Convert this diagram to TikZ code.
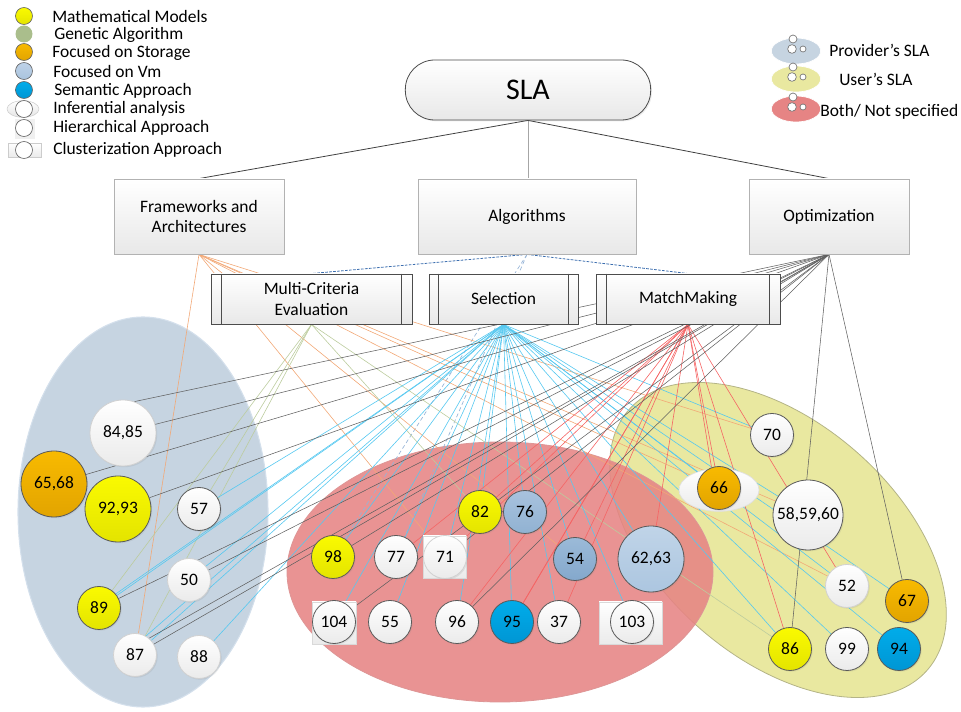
\documentclass[tikz,border=0pt]{standalone}
\usepackage{fontspec}
\setmainfont{Carlito}
\usetikzlibrary{shadows,shapes.geometric}
\pgfdeclarelayer{bg}
\pgfsetlayers{bg,main}
\newcommand\myfs{\fontsize{13.1}{15.5}\selectfont}
\definecolor{ellB}{RGB}{198,212,225}
\definecolor{ellBd}{RGB}{212,224,236}
\definecolor{ellR}{RGB}{230,132,132}
\definecolor{ellRd}{RGB}{222,150,150}
\definecolor{ellY}{RGB}{233,232,160}
\definecolor{ellYd}{RGB}{180,180,135}
\definecolor{yelT}{RGB}{250,250,0}
\definecolor{yelB}{RGB}{228,228,0}
\definecolor{orgT}{RGB}{248,186,0}
\definecolor{orgB}{RGB}{226,164,0}
\definecolor{bluT}{RGB}{0,172,234}
\definecolor{bluB}{RGB}{0,150,212}
\definecolor{vmT}{RGB}{190,210,232}
\definecolor{vmB}{RGB}{170,196,222}
\definecolor{sAT}{RGB}{168,194,222}
\definecolor{sAB}{RGB}{145,178,210}
\definecolor{sBT}{RGB}{155,186,216}
\definecolor{sBB}{RGB}{132,168,204}
\definecolor{sCT}{RGB}{192,212,232}
\definecolor{sCB}{RGB}{172,198,224}
\definecolor{genC}{RGB}{170,190,140}
\definecolor{lOrg}{RGB}{242,168,118}
\definecolor{lGrn}{RGB}{188,204,158}
\definecolor{lBlu}{RGB}{85,200,240}
\definecolor{lRed}{RGB}{245,100,100}
\definecolor{lGry}{RGB}{95,95,95}
\definecolor{dBlu}{RGB}{60,110,175}
\definecolor{pBlu}{RGB}{150,180,215}
\tikzset{
  cc/.style={circle, inner sep=0pt, minimum size=32.25pt, draw=black!65, line width=0.6pt,
    top color=white, bottom color=black!8, font=\myfs,
    drop shadow={shadow xshift=0.9pt, shadow yshift=-0.9pt, opacity=0.15}},
  pale/.style={draw=black!18},
  big/.style={minimum size=49.5pt},
  xl/.style={minimum size=52.5pt},
  yc/.style={top color=yelT, bottom color=yelB},
  oc/.style={top color=orgT, bottom color=orgB},
  bc/.style={top color=bluT, bottom color=bluB},
  fA/.style={top color=sAT, bottom color=sAB},
  fB/.style={top color=sBT, bottom color=sBB},
  fC/.style={top color=sCT, bottom color=sCB},
  sq/.style={rectangle, inner sep=0pt, draw=black!15, line width=0.5pt, top color=white, bottom color=black!8,
    drop shadow={shadow xshift=0.8pt, shadow yshift=-0.8pt, opacity=0.12}},
  box/.style={rectangle, draw=black!30, line width=0.6pt, top color=white, bottom color=black!9,
    font=\myfs, align=center, minimum height=56.25pt, inner sep=2pt,
    drop shadow={shadow xshift=1pt, shadow yshift=-1pt, opacity=0.15}},
  proc/.style={rectangle, draw=black!70, line width=0.7pt, top color=white, bottom color=black!9,
    font=\myfs, align=center, minimum height=37.5pt, inner sep=2pt,
    drop shadow={shadow xshift=1pt, shadow yshift=-1pt, opacity=0.15}},
  pl/.style={draw=black!70, line width=0.7pt},
  lg/.style={circle, inner sep=0pt, minimum size=12.75pt, draw=black!60, line width=0.5pt},
  lt/.style={anchor=west, inner sep=0pt, font=\myfs},
  re/.style={ellipse, inner sep=0pt, minimum width=37pt, minimum height=19.5pt, draw=white, line width=0.5pt},
  sm/.style={circle, inner sep=0pt, draw=black!55, fill=white, line width=0.5pt},
  sl/.style={draw=black!75, line width=0.6pt},
  fo/.style={draw=lOrg, line width=0.45pt},
  fg/.style={draw=lGrn, line width=0.45pt},
  fb/.style={draw=lBlu, line width=0.45pt},
  fr/.style={draw=lRed, line width=0.45pt},
  fk/.style={draw=lGry, line width=0.4pt},
  db/.style={draw=dBlu, line width=0.6pt, dash pattern=on 2pt off 1pt},
  pb/.style={draw=pBlu, line width=0.5pt, dash pattern=on 3pt off 2pt},
}
\begin{document}
\begin{tikzpicture}[x=0.75pt,y=-0.75pt]
\useasboundingbox (0,0) rectangle (961,712);

% ---------- left legend
\node[lg, top color=yelT, bottom color=yelB] (l1) at (24,16) {};
\node[lg, draw=none, fill=genC] (l2) at (24,34) {};
\node[lg, top color=orgT, bottom color=orgB] (l3) at (24,52) {};
\node[lg, top color=vmT, bottom color=vmB] (l4) at (24,71) {};
\node[lg, top color=bluT, bottom color=bluB] (l5) at (24,90) {};
\node[ellipse, inner sep=0pt, minimum width=24pt, minimum height=12.5pt, draw=black!20, top color=white, bottom color=black!10] (l6e) at (23,109) {};
\node[lg, fill=white] (l6) at (24,109) {};
\node[rectangle, inner sep=0pt, minimum width=15pt, minimum height=15pt, fill=black!6] (l7s) at (25,129) {};
\node[lg, fill=white] (l7) at (24,128) {};
\node[rectangle, inner sep=0pt, minimum width=24.75pt, minimum height=10.5pt, draw=black!20, top color=white, bottom color=black!8] (l8s) at (24.5,150) {};
\node[lg, fill=white] (l8) at (24,150) {};
\node[lt] (t1) at (52,17) {Mathematical Models};
\node[lt] (t2) at (54,35) {Genetic Algorithm};
\node[lt] (t3) at (52,53) {Focused on Storage};
\node[lt] (t4) at (53,72) {Focused on Vm};
\node[lt] (t5) at (54,91) {Semantic Approach};
\node[lt] (t6) at (53,109) {Inferential analysis};
\node[lt] (t7) at (53,128) {Hierarchical Approach};
\node[lt] (t8) at (53,150) {Clusterization Approach};

% ---------- right legend
\node[re, fill=ellB] (r1) at (796,51) {};
\node[re, fill=ellY] (r2) at (796,79) {};
\node[re, fill=ellR] (r3) at (796,109) {};
\foreach \i/\yy in {1/51,2/79,3/109}{
  \node[sm, minimum size=6pt] (ra\i) at (793,\yy-12) {};
  \node[sm, minimum size=6.5pt] (rb\i) at (792,\yy-2) {};
  \node[sm, minimum size=4.5pt] (rc\i) at (803,\yy-2) {};
}
\node[lt] (rt1) at (829,50) {Provider's SLA};
\node[lt] (rt2) at (839,79) {User's SLA};
\node[lt] (rt3) at (820,112) {Both/ Not specified};

% ---------- hierarchy boxes
\node[rectangle, rounded corners=22pt, minimum width=184pt, minimum height=45pt, draw=black!70, line width=0.6pt,
  top color=white, bottom color=black!9, font=\fontsize{22.5}{26}\selectfont,
  drop shadow={shadow xshift=1pt, shadow yshift=-1pt, opacity=0.15}] (sla) at (528,90) {SLA};
\node[box, minimum width=127.5pt] (fw) at (199,216.5) {Frameworks and\\Architectures};
\node[box, minimum width=163.5pt] (alg) at (527,216.5) {Algorithms};
\node[box, minimum width=120pt] (opt) at (829,216.5) {Optimization};
\node[proc, minimum width=150.75pt] (mc) at (311.5,299) {Multi-Criteria\\Evaluation};
\node[proc, minimum width=111.75pt] (sel) at (503.5,299) {Selection};
\node[proc, minimum width=138pt] (mm) at (688,299) {MatchMaking};
\draw[pl] ([xshift=8.25pt]mc.north west) -- ([xshift=8.25pt]mc.south west);
\draw[pl] ([xshift=-8.25pt]mc.north east) -- ([xshift=-8.25pt]mc.south east);
\draw[pl] ([xshift=7.5pt]sel.north west) -- ([xshift=7.5pt]sel.south west);
\draw[pl] ([xshift=-7.5pt]sel.north east) -- ([xshift=-7.5pt]sel.south east);
\draw[pl] ([xshift=7.9pt]mm.north west) -- ([xshift=7.9pt]mm.south west);
\draw[pl] ([xshift=-7.9pt]mm.north east) -- ([xshift=-7.9pt]mm.south east);

% ---------- left group (provider)
\node[cc,big,pale] (c8485) at (123,433) {84,85};
\node[cc,big,oc] (c6568) at (54,484) {65,68};
\node[cc,big,yc] (c9293) at (118,509) {92,93};
\node[cc] (c57) at (199,509) {57};
\node[cc,pale] (c50) at (189,580) {50};
\node[cc,yc] (c89) at (99,608) {89};
\node[cc,pale] (c87) at (135,655) {87};
\node[cc,pale] (c88) at (199,657) {88};

% ---------- middle group (both)
\node[sq, minimum width=32.25pt, minimum height=31.5pt] (s71) at (444.5,557) {};
\node[sq, minimum width=33pt, minimum height=31.5pt] (s104) at (334,623) {};
\node[sq, minimum width=47.25pt, minimum height=31.5pt] (s103) at (630.5,623) {};
\node[cc,yc] (c82) at (480,512) {82};
\node[cc,fA] (c76) at (525,512) {76};
\node[cc,yc] (c98) at (333,557) {98};
\node[cc] (c77) at (396,557) {77};
\node[cc,pale] (c71) at (445,557) {71};
\node[cc,fB] (c54) at (575,559) {54};
\node[cc,big,fC] (c6263) at (651,559) {62,63};
\node[cc] (c104) at (334,622) {104};
\node[cc] (c55) at (390,622) {55};
\node[cc] (c96) at (457,622) {96};
\node[cc,bc] (c95) at (512,622) {95};
\node[cc] (c37) at (559,622) {37};
\node[cc] (c103) at (632,622) {103};

% ---------- right group (user)
\node[ellipse, inner sep=0pt, minimum width=60pt, minimum height=32pt, draw=black!12, line width=0.5pt,
  top color=white, bottom color=black!8] (e66) at (719,490) {};
\node[cc] (c70) at (772,435) {70};
\node[cc,oc] (c66) at (719,488) {66};
\node[cc,xl] (c585960) at (808,515) {58,59,60};
\node[cc,pale] (c52) at (847,586) {52};
\node[cc,oc] (c67) at (907,601) {67};
\node[cc,yc] (c86) at (790,649) {86};
\node[cc] (c99) at (847,649) {99};
\node[cc,bc] (c94) at (899,649) {94};

\begin{pgfonlayer}{bg}
  \fill[ellY, draw=ellYd, line width=0.6pt, rotate around={-41:(778,540)}] (778,540) ellipse [x radius=198, y radius=118];
  \fill[ellB, draw=ellBd, line width=0.8pt] (143,512) ellipse [x radius=125, y radius=195];
  \fill[ellR, fill opacity=0.88, draw=ellRd, line width=0.6pt] (500,572) ellipse [x radius=213, y radius=130];

  \draw[sl] (sla.south) -- (fw.north);
  \draw[sl, draw=black!35] (sla.south) -- (sla.south |- alg.north);
  \draw[sl] (sla.south) -- (opt.north);
  \draw[db] (alg.south) -- (mc.north);
  \draw[db] (alg.south) -- (mm.north);
  \draw[pb] (alg.south) -- (c98);
  \draw[pb] (alg.south) -- (c77);

  \foreach \t in {c87,c71,c54,c66,c70,c585960,c52}
    \draw[fo] (fw.south) -- (\t);
  \foreach \t in {c89,c87,c57,c86,c82}
    \draw[fg] (mc.south) -- (\t);
  \foreach \t in {c57,c50,c89,c89.40,c87,c87.60,c88,c98,c104,c77,c55,c71,c82,c76,c96,c95,c37,c54,c6263,c103,c70,c66,c585960,c52,c67,c86,c99,c94}
    \draw[fb] (sel.south) -- (\t);
  \foreach \t in {c77,c71,c82,c96,c95,c95.60,c37,c54,c6263,c66,c66.110,c86,c52}
    \draw[fr] (mm.south) -- (\t);
  \foreach \t in {c8485.70,c8485.15,c6568,c9293,c89,c87,c87.50,c50,c98,c104,c96,c71,c86,c67}
    \draw[fk] (opt.south) -- (\t);
\end{pgfonlayer}
\end{tikzpicture}
\end{document}
